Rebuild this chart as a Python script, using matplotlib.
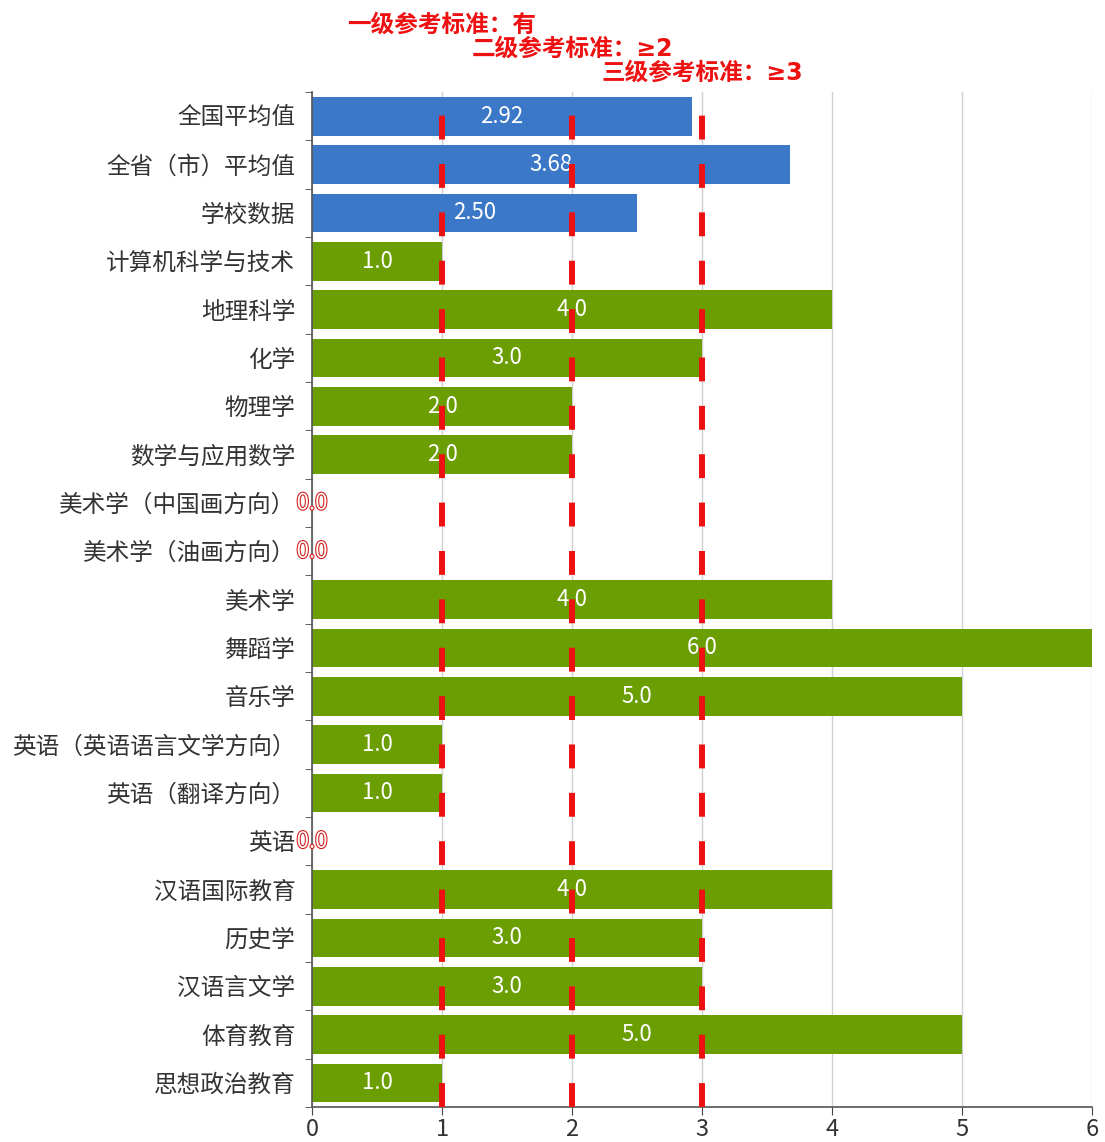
import matplotlib
matplotlib.use("Agg")
import matplotlib.pyplot as plt
import matplotlib.patheffects as pe
import matplotlib.transforms as mtransforms

plt.rcParams['font.family'] = ['Noto Sans CJK SC', 'DejaVu Sans']

# 数据
categories = ["全国平均值", "全省（市）平均值", "学校数据", "计算机科学与技术", "地理科学",
              "化学", "物理学", "数学与应用数学", "美术学（中国画方向）", "美术学（油画方向）",
              "美术学", "舞蹈学", "音乐学", "英语（英语语言文学方向）", "英语（翻译方向）",
              "英语", "汉语国际教育", "历史学", "汉语言文学", "体育教育", "思想政治教育"]
values = [2.92, 3.68, 2.50, 1.0, 4.0, 3.0, 2.0, 2.0, 0.0, 0.0,
          4.0, 6.0, 5.0, 1.0, 1.0, 0.0, 4.0, 3.0, 3.0, 5.0, 1.0]
value_labels = ["2.92", "3.68", "2.50", "1.0", "4.0", "3.0", "2.0", "2.0", "0.0", "0.0",
                "4.0", "6.0", "5.0", "1.0", "1.0", "0.0", "4.0", "3.0", "3.0", "5.0", "1.0"]
ref_levels = [1, 2, 3]
ref_texts = ["一级参考标准：有", "二级参考标准：≥2", "三级参考标准：≥3"]
xticks = [0, 1, 2, 3, 4, 5, 6]

blue = "#3C78C8"
green = "#6B9E03"
colors = [blue if i < 3 else green for i in range(len(categories))]

fig = plt.figure(figsize=(11.05, 11.42), dpi=100)
ax = fig.add_axes([0.2824, 0.0306, 0.7058, 0.8888])

ypos = list(range(len(categories)))
ax.barh(ypos, values, height=0.8, color=colors, zorder=2)

# 参考线（从底部开始画虚线）
n = len(categories)
for lv in ref_levels:
    ax.plot([lv, lv], [n - 0.5, -0.5], color="#EE1111", linewidth=4.3,
            dashes=(4.0, 4.1), solid_capstyle="butt", zorder=5)

# 数值标签
for y, v, lab in zip(ypos, values, value_labels):
    if v > 0:
        ax.text(v / 2, y, lab, ha="center", va="center", color="white",
                fontsize=16, zorder=4)
    else:
        t = ax.text(0, y, lab, ha="center", va="center", color="white",
                    fontsize=16, zorder=6)
        t.set_path_effects([pe.withStroke(linewidth=1.6, foreground="#D42020")])

ax.set_ylim(n - 0.5, -0.5)
ax.set_xlim(0, 6)
ax.set_yticks(ypos)
ax.set_yticklabels(categories, fontsize=17, color="#333333")
ax.set_yticks([i + 0.5 for i in range(-1, n)], minor=True)
ax.tick_params(axis="y", which="major", length=0, pad=12)
ax.tick_params(axis="y", which="minor", length=5, color="#444444")
ax.set_xticks(xticks)
ax.set_xticklabels([str(x) for x in xticks], fontsize=17, color="#333333")
ax.tick_params(axis="x", length=6, color="#444444", pad=2)

ax.grid(axis="x", color="#D0D0D0", linewidth=1, zorder=0)
ax.set_axisbelow(True)
for s in ["top", "right"]:
    ax.spines[s].set_visible(False)
for s in ["left", "bottom"]:
    ax.spines[s].set_color("#555555")
    ax.spines[s].set_linewidth(1.2)

# 顶部参考标准文字
trans = mtransforms.blended_transform_factory(ax.transData, fig.transFigure)
ref_y = [1 - 25 / 1142, 1 - 49 / 1142, 1 - 73 / 1142]
for lv, txt, yy in zip(ref_levels, ref_texts, ref_y):
    ax.text(lv, yy, txt, transform=trans, ha="center", va="center",
            color="#EE1111", fontsize=17, fontweight="bold",
            family=["DejaVu Sans", "Noto Sans CJK SC"])

fig.savefig("out.png", dpi=100)
